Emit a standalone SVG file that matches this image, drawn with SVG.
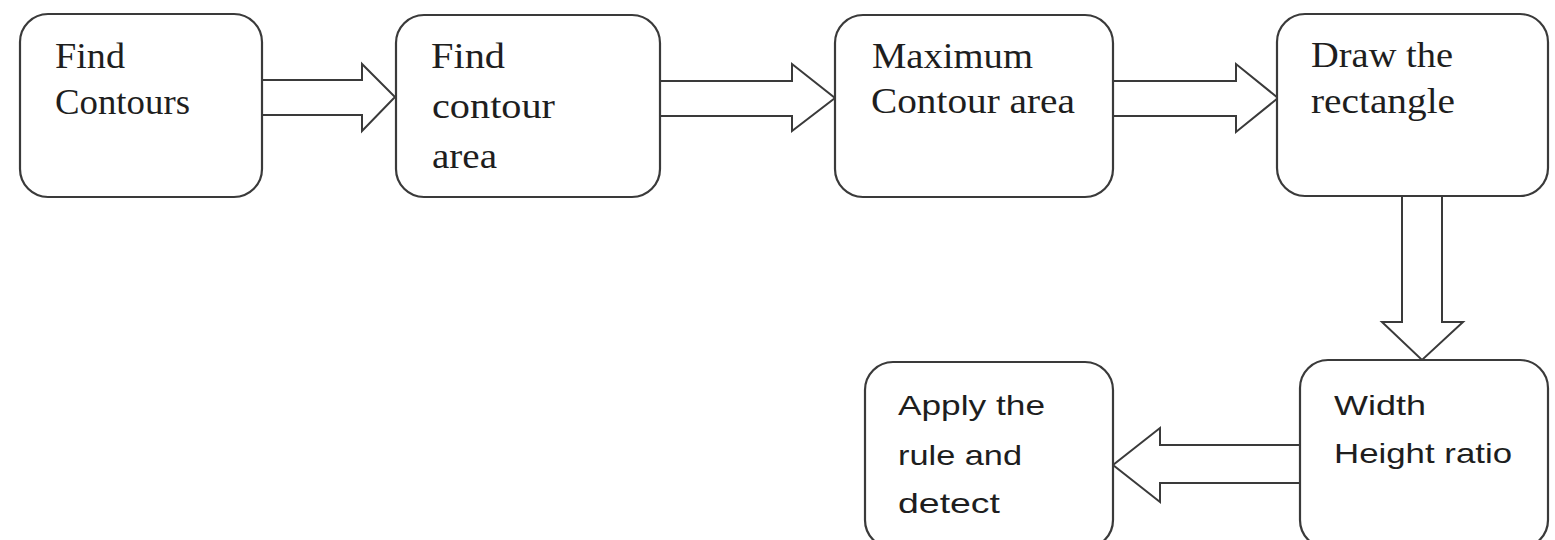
<svg xmlns="http://www.w3.org/2000/svg" width="1555" height="540" viewBox="0 0 1555 540">
<style>
.box{fill:#ffffff;stroke:#3a3a3a;stroke-width:2.2}
.arr{fill:#ffffff;stroke:#3a3a3a;stroke-width:2;stroke-linejoin:miter}
.ser{font-family:"Liberation Serif","Times New Roman",serif;font-size:35px;fill:#1e1e1e}
.san{font-family:"Liberation Sans",Arial,sans-serif;font-size:28px;fill:#1e1e1e}
</style>
<rect x="0" y="0" width="1555" height="540" fill="#ffffff"/>
<g id="connectors">
<path class="arr" d="M262,80 H362 V64 L395,97 L362,131 V115 H262"/>
<path class="arr" d="M660,81 H792 V64 L835,98 L792,131 V116 H660"/>
<path class="arr" d="M1113,81 H1236 V64 L1278,98 L1236,132 V116 H1113"/>
<path class="arr" d="M1402,196 V322 H1382 L1422,360 L1463,322 H1442 V196"/>
<path class="arr" d="M1300,445 H1160 V428 L1113,465 L1160,502 V483 H1300"/>
</g>
<g id="node-find-contours">
<rect class="box" x="20" y="14" width="242" height="183" rx="28"/>
<text class="ser" x="55" y="68" textLength="70" lengthAdjust="spacingAndGlyphs">Find</text>
<text class="ser" x="55" y="114" textLength="135" lengthAdjust="spacingAndGlyphs">Contours</text>
</g>
<g id="node-find-contour-area">
<rect class="box" x="396" y="15" width="264" height="182" rx="28"/>
<text class="ser" x="431" y="68" textLength="74" lengthAdjust="spacingAndGlyphs">Find</text>
<text class="ser" x="432" y="118" textLength="123" lengthAdjust="spacingAndGlyphs">contour</text>
<text class="ser" x="432" y="168" textLength="65" lengthAdjust="spacingAndGlyphs">area</text>
</g>
<g id="node-maximum-contour-area">
<rect class="box" x="835" y="15" width="278" height="182" rx="28"/>
<text class="ser" x="872" y="68" textLength="161" lengthAdjust="spacingAndGlyphs">Maximum</text>
<text class="ser" x="871" y="113" textLength="204" lengthAdjust="spacingAndGlyphs">Contour area</text>
</g>
<g id="node-draw-rectangle">
<rect class="box" x="1277" y="14" width="271" height="182" rx="28"/>
<text class="ser" x="1311" y="67" textLength="142" lengthAdjust="spacingAndGlyphs">Draw the</text>
<text class="ser" x="1311" y="113" textLength="144" lengthAdjust="spacingAndGlyphs">rectangle</text>
</g>
<g id="node-width-height-ratio">
<rect class="box" x="1300" y="360" width="248" height="188" rx="28"/>
<text class="san" x="1334" y="415" textLength="92" lengthAdjust="spacingAndGlyphs">Width</text>
<text class="san" x="1334" y="463" textLength="178" lengthAdjust="spacingAndGlyphs">Height ratio</text>
</g>
<g id="node-apply-rule">
<rect class="box" x="865" y="362" width="248" height="186" rx="28"/>
<text class="san" x="898" y="415" textLength="147" lengthAdjust="spacingAndGlyphs">Apply the</text>
<text class="san" x="898" y="465" textLength="124" lengthAdjust="spacingAndGlyphs">rule and</text>
<text class="san" x="898" y="513" textLength="102" lengthAdjust="spacingAndGlyphs">detect</text>
</g>
</svg>
